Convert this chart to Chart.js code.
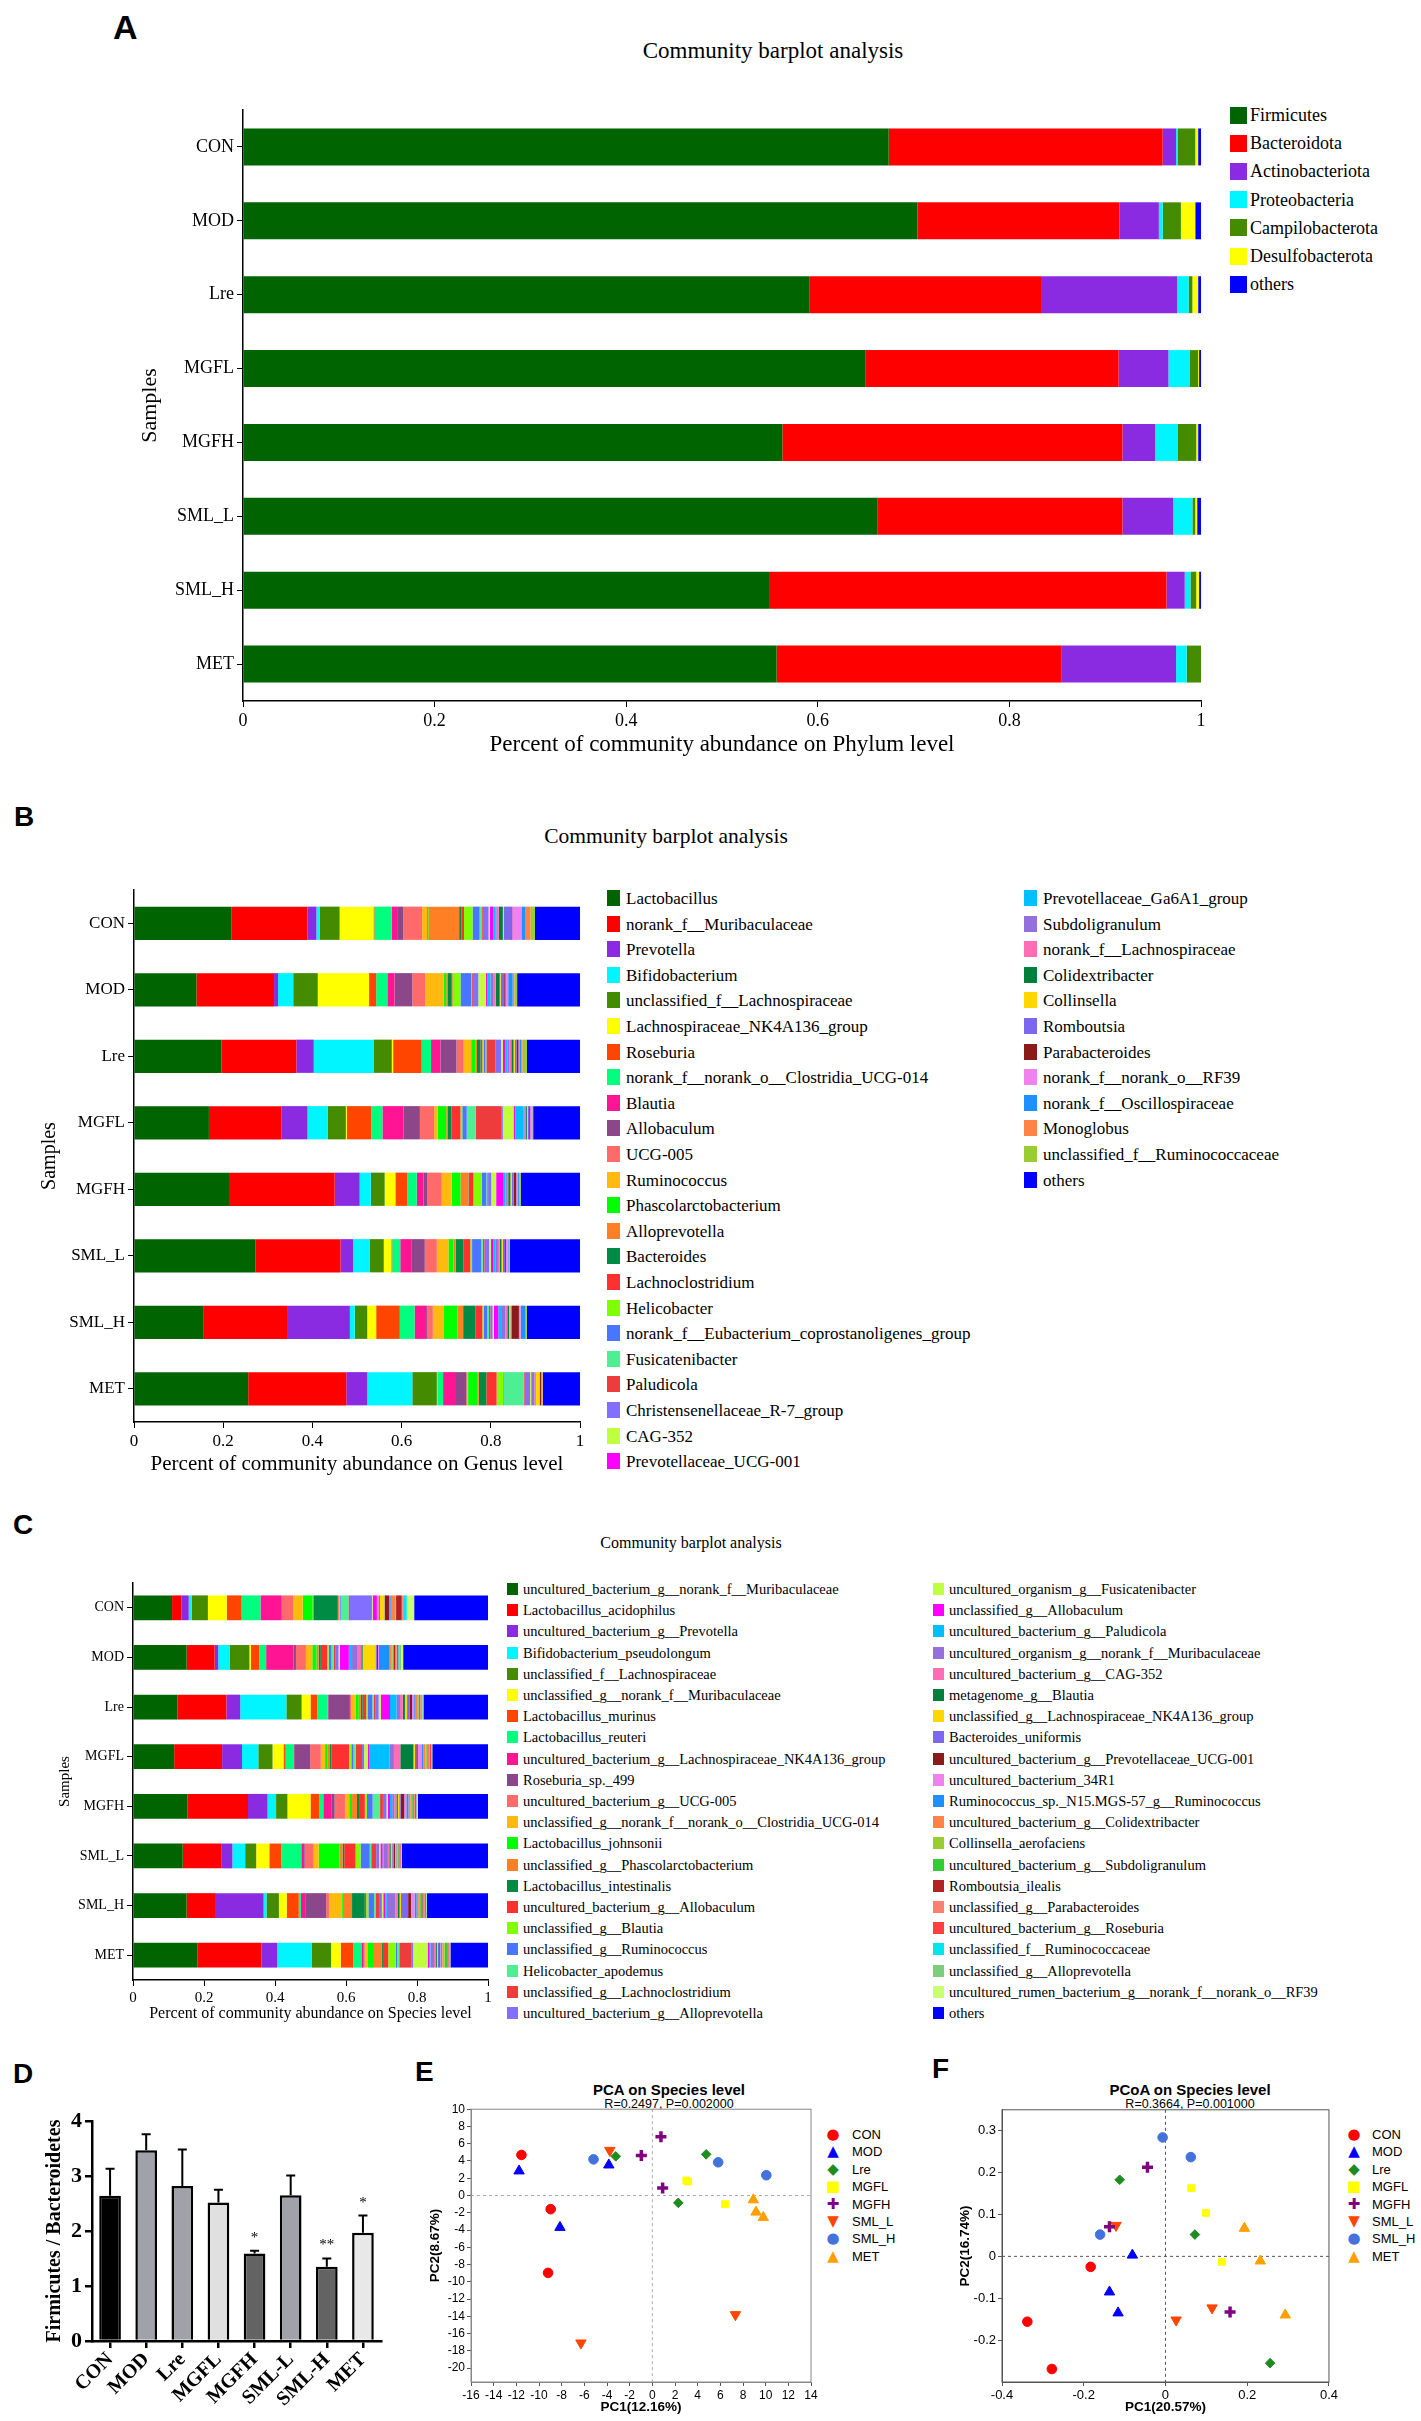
<!DOCTYPE html>
<html>
<head>
<meta charset="utf-8">
<script src="https://cdn.jsdelivr.net/npm/chart.js@4.4.0/dist/chart.umd.min.js"></script>
<style>
  body { margin: 0; background: #fff; width: 1421px; height: 2421px; position: relative; overflow: hidden; }
  canvas { position: absolute; }
</style>
</head>
<body>
<script>
// ---------- data ----------
const samples = ['CON', 'MOD', 'Lre', 'MGFL', 'MGFH', 'SML_L', 'SML_H', 'MET'];

// A: phylum level, one row per sample
const phylumNames = ['Firmicutes', 'Bacteroidota', 'Actinobacteriota', 'Proteobacteria', 'Campilobacterota', 'Desulfobacterota', 'others'];
const phylumColors = ['#006400', '#FF0000', '#8A2BE2', '#00F5FF', '#458B00', '#FFFF00', '#0000FF'];
const phylumRows = [
  [0.674, 0.286, 0.014, 0.002, 0.018, 0.003, 0.003],
  [0.704, 0.211, 0.041, 0.004, 0.019, 0.015, 0.006],
  [0.591, 0.242, 0.142, 0.012, 0.004, 0.006, 0.003],
  [0.650, 0.264, 0.052, 0.022, 0.009, 0.001, 0.002],
  [0.563, 0.355, 0.034, 0.024, 0.019, 0.002, 0.003],
  [0.662, 0.256, 0.053, 0.020, 0.003, 0.002, 0.004],
  [0.550, 0.414, 0.019, 0.006, 0.006, 0.003, 0.002],
  [0.557, 0.297, 0.120, 0.011, 0.015, 0.000, 0.000]
];

// B: genus level
const genusNames = ['Lactobacillus', 'norank_f__Muribaculaceae', 'Prevotella', 'Bifidobacterium', 'unclassified_f__Lachnospiraceae',
  'Lachnospiraceae_NK4A136_group', 'Roseburia', 'norank_f__norank_o__Clostridia_UCG-014', 'Blautia', 'Allobaculum', 'UCG-005',
  'Ruminococcus', 'Phascolarctobacterium', 'Alloprevotella', 'Bacteroides', 'Lachnoclostridium', 'Helicobacter',
  'norank_f__Eubacterium_coprostanoligenes_group', 'Fusicatenibacter', 'Paludicola', 'Christensenellaceae_R-7_group', 'CAG-352',
  'Prevotellaceae_UCG-001', 'Prevotellaceae_Ga6A1_group', 'Subdoligranulum', 'norank_f__Lachnospiraceae', 'Colidextribacter',
  'Collinsella', 'Romboutsia', 'Parabacteroides', 'norank_f__norank_o__RF39', 'norank_f__Oscillospiraceae', 'Monoglobus',
  'unclassified_f__Ruminococcaceae', 'others'];
const genusColors = ['#006400', '#FF0000', '#8A2BE2', '#00F5FF', '#458B00', '#FFFF00', '#FF4500', '#00FF7F', '#FF1493', '#8B4789',
  '#FF6A6A', '#FFB90F', '#00FF00', '#FF7F24', '#008B45', '#FF3030', '#7FFF00', '#4876FF', '#4EEE94', '#EE3B3B', '#836FFF',
  '#C0FF3E', '#FF00FF', '#00BFFF', '#9370DB', '#FF6EB4', '#00803C', '#FFD700', '#7B68EE', '#8B1A1A', '#EE82EE', '#1E90FF',
  '#FF8247', '#9ACD32', '#0000FF'];
const genusRows = [
  [0.218,0.171,0.020,0.007,0.045,0.076,0.002,0.039,0.012,0.014,0.042,0.011,0.003,0.069,0.005,0.006,0.019,0.016,0.004,0.003,0.013,0.003,0.008,0.004,0.003,0.005,0.009,0.002,0.017,0.002,0.022,0.008,0.011,0.010,0.101],
  [0.140,0.174,0.009,0.034,0.055,0.115,0.016,0.025,0.016,0.040,0.029,0.041,0.006,0.004,0.007,0.003,0.018,0.024,0.002,0.002,0.012,0.017,0.003,0.007,0.006,0.006,0.009,0.002,0.008,0.003,0.006,0.010,0.004,0.006,0.141],
  [0.196,0.168,0.039,0.134,0.041,0.003,0.064,0.021,0.021,0.036,0.016,0.017,0.009,0.004,0.008,0.004,0.003,0.004,0.002,0.020,0.013,0.004,0.006,0.005,0.004,0.004,0.005,0.003,0.004,0.004,0.002,0.004,0.003,0.010,0.119],
  [0.168,0.163,0.058,0.045,0.041,0.002,0.055,0.025,0.047,0.037,0.032,0.008,0.019,0.004,0.008,0.020,0.004,0.010,0.020,0.057,0.004,0.024,0.004,0.018,0.003,0.003,0.002,0.002,0.003,0.002,0.004,0.001,0.001,0.001,0.105],
  [0.213,0.237,0.056,0.025,0.031,0.024,0.027,0.021,0.015,0.009,0.032,0.022,0.020,0.018,0.003,0.008,0.019,0.010,0.002,0.002,0.007,0.011,0.017,0.004,0.003,0.003,0.005,0.003,0.004,0.006,0.004,0.002,0.002,0.002,0.133],
  [0.272,0.191,0.028,0.038,0.031,0.017,0.002,0.018,0.026,0.029,0.027,0.026,0.011,0.005,0.018,0.015,0.004,0.020,0.004,0.004,0.010,0.004,0.006,0.004,0.006,0.004,0.004,0.003,0.005,0.002,0.004,0.002,0.002,0.001,0.157],
  [0.155,0.190,0.139,0.011,0.028,0.020,0.053,0.033,0.026,0.003,0.012,0.025,0.030,0.013,0.028,0.015,0.003,0.008,0.004,0.003,0.005,0.003,0.010,0.006,0.010,0.004,0.004,0.003,0.003,0.016,0.004,0.010,0.002,0.002,0.119],
  [0.256,0.220,0.047,0.101,0.055,0.001,0.001,0.012,0.029,0.023,0.002,0.002,0.022,0.002,0.017,0.023,0.015,0.002,0.044,0.002,0.012,0.002,0.001,0.001,0.006,0.002,0.001,0.008,0.001,0.003,0.001,0.001,0.001,0.001,0.083]
];

// C: species level
const speciesNames = ['uncultured_bacterium_g__norank_f__Muribaculaceae', 'Lactobacillus_acidophilus', 'uncultured_bacterium_g__Prevotella',
  'Bifidobacterium_pseudolongum', 'unclassified_f__Lachnospiraceae', 'unclassified_g__norank_f__Muribaculaceae', 'Lactobacillus_murinus',
  'Lactobacillus_reuteri', 'uncultured_bacterium_g__Lachnospiraceae_NK4A136_group', 'Roseburia_sp._499', 'uncultured_bacterium_g__UCG-005',
  'unclassified_g__norank_f__norank_o__Clostridia_UCG-014', 'Lactobacillus_johnsonii', 'unclassified_g__Phascolarctobacterium',
  'Lactobacillus_intestinalis', 'uncultured_bacterium_g__Allobaculum', 'unclassified_g__Blautia', 'unclassified_g__Ruminococcus',
  'Helicobacter_apodemus', 'unclassified_g__Lachnoclostridium', 'uncultured_bacterium_g__Alloprevotella',
  'uncultured_organism_g__Fusicatenibacter', 'unclassified_g__Allobaculum', 'uncultured_bacterium_g__Paludicola',
  'uncultured_organism_g__norank_f__Muribaculaceae', 'uncultured_bacterium_g__CAG-352', 'metagenome_g__Blautia',
  'unclassified_g__Lachnospiraceae_NK4A136_group', 'Bacteroides_uniformis', 'uncultured_bacterium_g__Prevotellaceae_UCG-001',
  'uncultured_bacterium_34R1', 'Ruminococcus_sp._N15.MGS-57_g__Ruminococcus', 'uncultured_bacterium_g__Colidextribacter',
  'Collinsella_aerofaciens', 'uncultured_bacterium_g__Subdoligranulum', 'Romboutsia_ilealis', 'unclassified_g__Parabacteroides',
  'uncultured_bacterium_g__Roseburia', 'unclassified_f__Ruminococcaceae', 'unclassified_g__Alloprevotella',
  'uncultured_rumen_bacterium_g__norank_f__norank_o__RF39', 'others'];
const speciesColors = ['#006400', '#FF0000', '#8A2BE2', '#00F5FF', '#458B00', '#FFFF00', '#FF4500', '#00FF7F', '#FF1493', '#8B4789',
  '#FF6A6A', '#FFB90F', '#00FF00', '#FF7F24', '#008B45', '#FF3030', '#7FFF00', '#4876FF', '#4EEE94', '#EE3B3B', '#836FFF',
  '#C0FF3E', '#FF00FF', '#00BFFF', '#9370DB', '#FF6EB4', '#00803C', '#FFD700', '#7B68EE', '#8B1A1A', '#EE82EE', '#1E90FF',
  '#FF8247', '#9ACD32', '#32CD32', '#B22222', '#FA8072', '#FF4040', '#00E5EE', '#7CCD7C', '#CAFF70', '#0000FF'];
const speciesRows = [
  [0.110,0.026,0.021,0.008,0.046,0.053,0.042,0.053,0.058,0.002,0.033,0.026,0.028,0.002,0.069,0.002,0.004,0.002,0.022,0.004,0.062,0.002,0.012,0.002,0.002,0.002,0.002,0.013,0.001,0.013,0.002,0.002,0.012,0.002,0.001,0.016,0.002,0.002,0.010,0.002,0.019,0.208],
  [0.151,0.079,0.010,0.033,0.055,0.004,0.024,0.019,0.077,0.007,0.028,0.018,0.012,0.006,0.006,0.018,0.004,0.008,0.006,0.006,0.008,0.004,0.025,0.009,0.014,0.012,0.004,0.036,0.004,0.003,0.003,0.030,0.004,0.004,0.004,0.004,0.004,0.004,0.004,0.004,0.006,0.239],
  [0.125,0.138,0.039,0.130,0.043,0.025,0.019,0.029,0.002,0.061,0.004,0.013,0.008,0.006,0.005,0.010,0.005,0.012,0.004,0.004,0.010,0.006,0.026,0.018,0.010,0.008,0.006,0.006,0.008,0.006,0.006,0.004,0.004,0.004,0.002,0.002,0.002,0.002,0.002,0.002,0.002,0.182],
  [0.116,0.135,0.056,0.046,0.040,0.031,0.006,0.022,0.002,0.045,0.030,0.012,0.006,0.008,0.004,0.050,0.006,0.006,0.006,0.018,0.006,0.010,0.004,0.058,0.012,0.018,0.037,0.004,0.004,0.004,0.012,0.004,0.006,0.004,0.002,0.002,0.004,0.004,0.001,0.001,0.001,0.157],
  [0.153,0.171,0.055,0.024,0.032,0.065,0.024,0.012,0.024,0.008,0.029,0.012,0.008,0.014,0.008,0.014,0.006,0.016,0.021,0.008,0.010,0.004,0.006,0.006,0.006,0.006,0.004,0.004,0.004,0.010,0.006,0.006,0.006,0.004,0.002,0.002,0.004,0.004,0.001,0.001,0.002,0.198],
  [0.140,0.110,0.030,0.036,0.031,0.037,0.034,0.056,0.008,0.002,0.025,0.014,0.059,0.008,0.005,0.032,0.014,0.026,0.004,0.014,0.008,0.004,0.006,0.003,0.012,0.004,0.004,0.004,0.004,0.004,0.002,0.002,0.002,0.002,0.002,0.002,0.002,0.002,0.001,0.001,0.001,0.243],
  [0.151,0.080,0.137,0.008,0.035,0.022,0.034,0.006,0.012,0.059,0.008,0.035,0.004,0.026,0.036,0.004,0.006,0.016,0.004,0.010,0.008,0.004,0.006,0.004,0.024,0.006,0.006,0.004,0.020,0.008,0.010,0.006,0.006,0.004,0.006,0.002,0.004,0.004,0.001,0.001,0.001,0.172],
  [0.181,0.181,0.044,0.098,0.054,0.027,0.035,0.025,0.004,0.002,0.002,0.009,0.014,0.024,0.004,0.015,0.021,0.004,0.006,0.035,0.004,0.041,0.004,0.004,0.010,0.004,0.004,0.002,0.004,0.002,0.002,0.004,0.002,0.006,0.008,0.002,0.002,0.001,0.001,0.001,0.001,0.106]
];

// D: Firmicutes / Bacteroidetes ratio
const ratioLabels = ['CON', 'MOD', 'Lre', 'MGFL', 'MGFH', 'SML-L', 'SML-H', 'MET'];
const ratioMean = [2.64, 3.47, 2.82, 2.52, 1.59, 2.65, 1.35, 1.97];
const ratioErr = [0.49, 0.29, 0.66, 0.23, 0.05, 0.36, 0.15, 0.31];
const ratioStars = ['', '', '', '', '*', '', '**', '*'];
const ratioFill = ['#000000', '#A1A1A9', '#A1A1A9', '#E0E0E0', '#636363', '#A1A1A9', '#636363', '#E8E8E8'];

// E / F: ordination scores, three samples per group
const groups = ['CON', 'MOD', 'Lre', 'MGFL', 'MGFH', 'SML_L', 'SML_H', 'MET'];
const groupColors = ['#FF0000', '#0000FF', '#1E8C1E', '#FFFF00', '#800080', '#FF4500', '#4472DD', '#FFA000'];
const groupStyles = ['circle', 'triangle', 'rectRot', 'rect', 'cross', 'triangle', 'circle', 'triangle'];
const groupSymbols = ['\u25CF', '\u25B2', '\u25C6', '\u25A0', '\u271A', '\u25BC', '\u25CF', '\u25B2'];
const pcaPoints = [
  [[-11.55, 4.7], [-8.97, -1.58], [-9.2, -8.96]],
  [[-11.76, 2.85], [-3.84, 3.54], [-8.15, -3.69]],
  [[-3.23, 4.54], [4.75, 4.77], [2.29, -0.85]],
  [[3.14, 1.62], [6.42, -1.0], [3.0, 1.75]],
  [[0.76, 6.81], [-0.97, 4.65], [0.91, 0.88]],
  [[-3.75, 5.23], [-6.3, -17.08], [7.33, -13.8]],
  [[-5.19, 4.19], [5.81, 3.85], [10.06, 2.35]],
  [[8.91, -0.5], [9.15, -1.92], [9.79, -2.54]]
];
const pcoaPoints = [
  [[-0.338, -0.156], [-0.278, -0.269], [-0.183, -0.025]],
  [[-0.137, -0.085], [-0.116, -0.135], [-0.081, 0.003]],
  [[-0.112, 0.183], [0.072, 0.052], [0.256, -0.255]],
  [[0.063, 0.163], [0.099, 0.104], [0.138, -0.013]],
  [[-0.044, 0.213], [-0.137, 0.071], [0.158, -0.133]],
  [[-0.121, 0.074], [0.114, -0.123], [0.026, -0.152]],
  [[-0.007, 0.284], [0.062, 0.237], [-0.160, 0.052]],
  [[0.193, 0.067], [0.232, -0.011], [0.293, -0.140]]
];

// ---------- helpers ----------
const SERIF = "'Liberation Serif', 'Times New Roman', serif";
const SANS = "'Liberation Sans', Arial, sans-serif";
Chart.defaults.font.family = SERIF;
Chart.defaults.color = '#000';
Chart.defaults.animation = false;
Chart.defaults.plugins.legend.display = false;
Chart.defaults.plugins.tooltip.enabled = false;

function makeCanvas(left, top, w, h) {
  const c = document.createElement('canvas');
  c.width = w; c.height = h;
  c.style.left = left + 'px'; c.style.top = top + 'px';
  c.style.width = w + 'px'; c.style.height = h + 'px';
  document.body.appendChild(c);
  return c;
}

function addText(txt, x, y, css, anchor) {
  const d = document.createElement('div');
  d.textContent = txt;
  d.style.cssText = 'position:absolute;white-space:nowrap;line-height:1;left:' + x + 'px;top:' + y + 'px;' + css;
  if (anchor === 'l') d.style.transform = 'translateY(-50%)';
  else if (anchor !== 'tl') d.style.transform = 'translate(-50%,-50%)';
  document.body.appendChild(d);
}

function squareLegend(names, colors, o) {
  names.forEach((n, i) => {
    const col = Math.floor(i / o.perCol), row = i % o.perCol;
    const cy = o.top + row * o.step;
    const sw = document.createElement('div');
    sw.style.cssText = 'position:absolute;left:' + o.sx[col] + 'px;top:' + (cy - o.sh / 2) + 'px;width:' + o.sw + 'px;height:' + o.sh + 'px;background:' + colors[i];
    document.body.appendChild(sw);
    addText(n, o.tx[col], cy, 'font-family:' + SERIF + ';font-size:' + o.fs + 'px', 'l');
  });
}

function stackedBar(canvas, names, colors, rows, g) {
  const datasets = names.map((n, k) => ({
    label: n,
    data: rows.map(r => r[k]),
    backgroundColor: colors[k],
    borderWidth: 0,
    barPercentage: 0.5,
    categoryPercentage: 1
  }));
  return new Chart(canvas, {
    type: 'bar',
    data: { labels: samples, datasets: datasets },
    options: {
      indexAxis: 'y',
      responsive: false,
      layout: { padding: { top: g.padTop, right: g.padRight, left: 0, bottom: 0 } },
      scales: {
        x: {
          stacked: true, min: 0, max: 1,
          ticks: { stepSize: 0.2, font: { size: g.tickSize }, padding: 3, callback: v => +v.toFixed(1) },
          grid: { drawOnChartArea: false, color: '#000', tickLength: 6 },
          border: { color: '#000', width: 1.5 },
          title: { display: true, text: g.xTitle, font: { size: g.xTitleSize }, padding: { top: 0, bottom: g.xTitlePad } },
          afterFit: s => { s.height = g.xHeight; }
        },
        y: {
          stacked: true,
          ticks: { font: { size: g.ySize }, padding: 3 },
          grid: { offset: false, drawOnChartArea: false, color: '#000', tickLength: 6 },
          border: { color: '#000', width: 1.5 },
          title: { display: true, text: 'Samples', font: { size: g.sSize }, padding: { top: g.sPad, bottom: 0 } },
          afterFit: s => { s.width = g.yWidth; }
        }
      }
    }
  });
}

// ---------- panel letters ----------
addText('A', 113, 8, 'font:bold 34px ' + SANS, 'tl');
addText('B', 14, 801, 'font:bold 28px ' + SANS, 'tl');
addText('C', 13, 1509, 'font:bold 28px ' + SANS, 'tl');
addText('D', 13, 2058, 'font:bold 28px ' + SANS, 'tl');
addText('E', 415, 2056, 'font:bold 28px ' + SANS, 'tl');
addText('F', 932, 2053, 'font:bold 28px ' + SANS, 'tl');

// ---------- A ----------
addText('Community barplot analysis', 773, 50, 'font-family:' + SERIF + ';font-size:23px');
stackedBar(makeCanvas(90, 90, 1135, 690), phylumNames, phylumColors, phylumRows, {
  padTop: 20, padRight: 24, yWidth: 153, xHeight: 79,
  tickSize: 18, ySize: 18, xTitle: 'Percent of community abundance on Phylum level', xTitleSize: 23, xTitlePad: 21,
  sSize: 22, sPad: 47
});
squareLegend(phylumNames, phylumColors, { perCol: 7, top: 115, step: 28.2, sx: [1230], tx: [1250], sw: 17, sh: 17, fs: 18 });

// ---------- B ----------
addText('Community barplot analysis', 666, 837, 'font-family:' + SERIF + ';font-size:21.5px');
stackedBar(makeCanvas(30, 870, 560, 610), genusNames, genusColors, genusRows, {
  padTop: 20, padRight: 10, yWidth: 104, xHeight: 58,
  tickSize: 17, ySize: 17, xTitle: 'Percent of community abundance on Genus level', xTitleSize: 21, xTitlePad: 3,
  sSize: 20, sPad: 8
});
squareLegend(genusNames, genusColors, { perCol: 23, top: 898, step: 25.6, sx: [607, 1024], tx: [626, 1043], sw: 13, sh: 16, fs: 17 });

// ---------- C ----------
addText('Community barplot analysis', 691, 1543, 'font-family:' + SERIF + ';font-size:16px');
stackedBar(makeCanvas(40, 1570, 458, 455), speciesNames, speciesColors, speciesRows, {
  padTop: 13, padRight: 10, yWidth: 93, xHeight: 45,
  tickSize: 15, ySize: 14, xTitle: 'Percent of community abundance on Species level', xTitleSize: 16, xTitlePad: 2,
  sSize: 15, sPad: 16
});
squareLegend(speciesNames, speciesColors, { perCol: 21, top: 1589, step: 21.2, sx: [507, 933], tx: [523, 949], sw: 11, sh: 12, fs: 14.5 });

// ---------- D ----------
const errorBars = {
  id: 'errorBars',
  afterDatasetsDraw(chart) {
    const { ctx, scales: { y } } = chart;
    const meta = chart.getDatasetMeta(0);
    ctx.save();
    ctx.strokeStyle = '#000';
    ctx.lineWidth = 2;
    ctx.fillStyle = '#000';
    ctx.font = '15px ' + SERIF;
    ctx.textAlign = 'center';
    ctx.textBaseline = 'middle';
    meta.data.forEach((bar, i) => {
      const base = y.getPixelForValue(ratioMean[i]);
      const top = y.getPixelForValue(ratioMean[i] + ratioErr[i]);
      ctx.beginPath();
      ctx.moveTo(bar.x, base);
      ctx.lineTo(bar.x, top);
      ctx.moveTo(bar.x - 4.5, top);
      ctx.lineTo(bar.x + 4.5, top);
      ctx.stroke();
      if (ratioStars[i]) ctx.fillText(ratioStars[i], bar.x, top - 13);
    });
    ctx.restore();
  }
};
new Chart(makeCanvas(20, 2100, 380, 321), {
  type: 'bar',
  data: {
    labels: ratioLabels,
    datasets: [{ data: ratioMean, backgroundColor: ratioFill, borderColor: '#000', borderWidth: 2.5, barPercentage: 0.6, categoryPercentage: 1 }]
  },
  options: {
    responsive: false,
    layout: { padding: { top: 21, right: 19, left: 0, bottom: 0 } },
    scales: {
      x: {
        ticks: { font: { size: 20, weight: 'bold' }, maxRotation: 45, minRotation: 45, autoSkip: false, padding: 0 },
        grid: { offset: false, drawOnChartArea: false, color: '#000', lineWidth: 2.5, tickLength: 7 },
        border: { color: '#000', width: 2.5 },
        afterFit: s => { s.height = 80; }
      },
      y: {
        min: 0, max: 4,
        ticks: { stepSize: 1, font: { size: 22, weight: 'bold' }, padding: 3 },
        grid: { drawOnChartArea: false, color: '#000', lineWidth: 2.5, tickLength: 7 },
        border: { color: '#000', width: 2.5 },
        title: { display: true, text: 'Firmicutes / Bacteroidetes', font: { size: 20, weight: 'bold' }, padding: { top: 23, bottom: 0 } },
        afterFit: s => { s.width = 72; }
      }
    }
  },
  plugins: [errorBars]
});

// ---------- E / F ----------
const framePlugin = {
  id: 'frame',
  beforeDatasetsDraw(chart, args, opts) {
    const { ctx, chartArea: a, scales: { x, y } } = chart;
    ctx.save();
    ctx.lineWidth = 1;
    ctx.strokeStyle = opts.dash;
    ctx.setLineDash([3, 3]);
    const x0 = x.getPixelForValue(0), y0 = y.getPixelForValue(0);
    ctx.beginPath();
    ctx.moveTo(x0, a.top); ctx.lineTo(x0, a.bottom);
    ctx.moveTo(a.left, y0); ctx.lineTo(a.right, y0);
    ctx.stroke();
    ctx.setLineDash([]);
    ctx.strokeStyle = opts.box;
    ctx.strokeRect(a.left, a.top, a.width, a.height);
    ctx.restore();
  }
};

function ordination(canvas, points, g) {
  const datasets = groups.map((name, k) => ({
    label: name,
    data: points[k].map(p => ({ x: p[0], y: p[1] })),
    pointStyle: groupStyles[k],
    pointRotation: name === 'SML_L' ? 180 : 0,
    pointRadius: groupStyles[k] === 'triangle' ? 6 : (groupStyles[k] === 'cross' ? 5.5 : 4.8),
    backgroundColor: groupColors[k],
    borderColor: groupColors[k],
    borderWidth: groupStyles[k] === 'cross' ? 3.5 : 1
  }));
  return new Chart(canvas, {
    type: 'scatter',
    data: { datasets: datasets },
    options: {
      responsive: false,
      layout: { padding: { top: 8, right: g.padRight, left: 0, bottom: 0 } },
      plugins: { frame: { dash: g.dash, box: g.box } },
      scales: {
        x: {
          min: g.xMin, max: g.xMax,
          ticks: { stepSize: g.xStep, autoSkip: false, maxRotation: 0, minRotation: 0, font: { family: SANS, size: g.tickSize }, padding: 2 },
          grid: { drawOnChartArea: false, color: '#555', tickLength: 4 },
          border: { color: g.box, width: 1 },
          title: { display: true, text: g.xTitle, font: { family: SANS, size: 13.5, weight: 'bold' }, padding: { top: 0, bottom: 6 } },
          afterFit: s => { s.height = 39; }
        },
        y: {
          min: g.yMin, max: g.yMax,
          ticks: { stepSize: g.yStep, autoSkip: false, includeBounds: false, font: { family: SANS, size: g.tickSize }, padding: 2 },
          grid: { drawOnChartArea: false, color: '#555', tickLength: 4 },
          border: { color: g.box, width: 1 },
          title: { display: true, text: g.yTitle, font: { family: SANS, size: 13.5, weight: 'bold' }, padding: { top: 27, bottom: 0 } },
          afterFit: s => { s.width = g.yWidth; }
        }
      }
    },
    plugins: [framePlugin]
  });
}

function groupLegend(sx, tx) {
  groups.forEach((name, i) => {
    const cy = 2134 + i * 17.4;
    addText(groupSymbols[i], sx, cy, "font-family:'DejaVu Sans',sans-serif;font-size:15px;color:" + groupColors[i]);
    addText(name, tx, cy, 'font-family:' + SANS + ';font-size:13px', 'l');
  });
}

addText('PCA on Species level', 669, 2089, 'font:bold 15px ' + SANS);
addText('R=0.2497, P=0.002000', 669, 2104, 'font:12.5px ' + SANS);
ordination(makeCanvas(400, 2100, 420, 321), pcaPoints, {
  padRight: 8, yWidth: 71, xMin: -16, xMax: 14, xStep: 2, yMin: -21.6, yMax: 10, yStep: 2,
  tickSize: 12, xTitle: 'PC1(12.16%)', yTitle: 'PC2(8.67%)', dash: '#AAAAAA', box: '#888888'
});
groupLegend(833, 852);

addText('PCoA on Species level', 1190, 2089, 'font:bold 15px ' + SANS);
addText('R=0.3664, P=0.001000', 1190, 2104, 'font:12.5px ' + SANS);
ordination(makeCanvas(930, 2100, 410, 321), pcoaPoints, {
  padRight: 7, yWidth: 72, xMin: -0.4, xMax: 0.4, xStep: 0.2, yMin: -0.3, yMax: 0.35, yStep: 0.1,
  tickSize: 13, xTitle: 'PC1(20.57%)', yTitle: 'PC2(16.74%)', dash: '#555555', box: '#555555'
});
groupLegend(1354, 1372);
</script>
</body>
</html>
